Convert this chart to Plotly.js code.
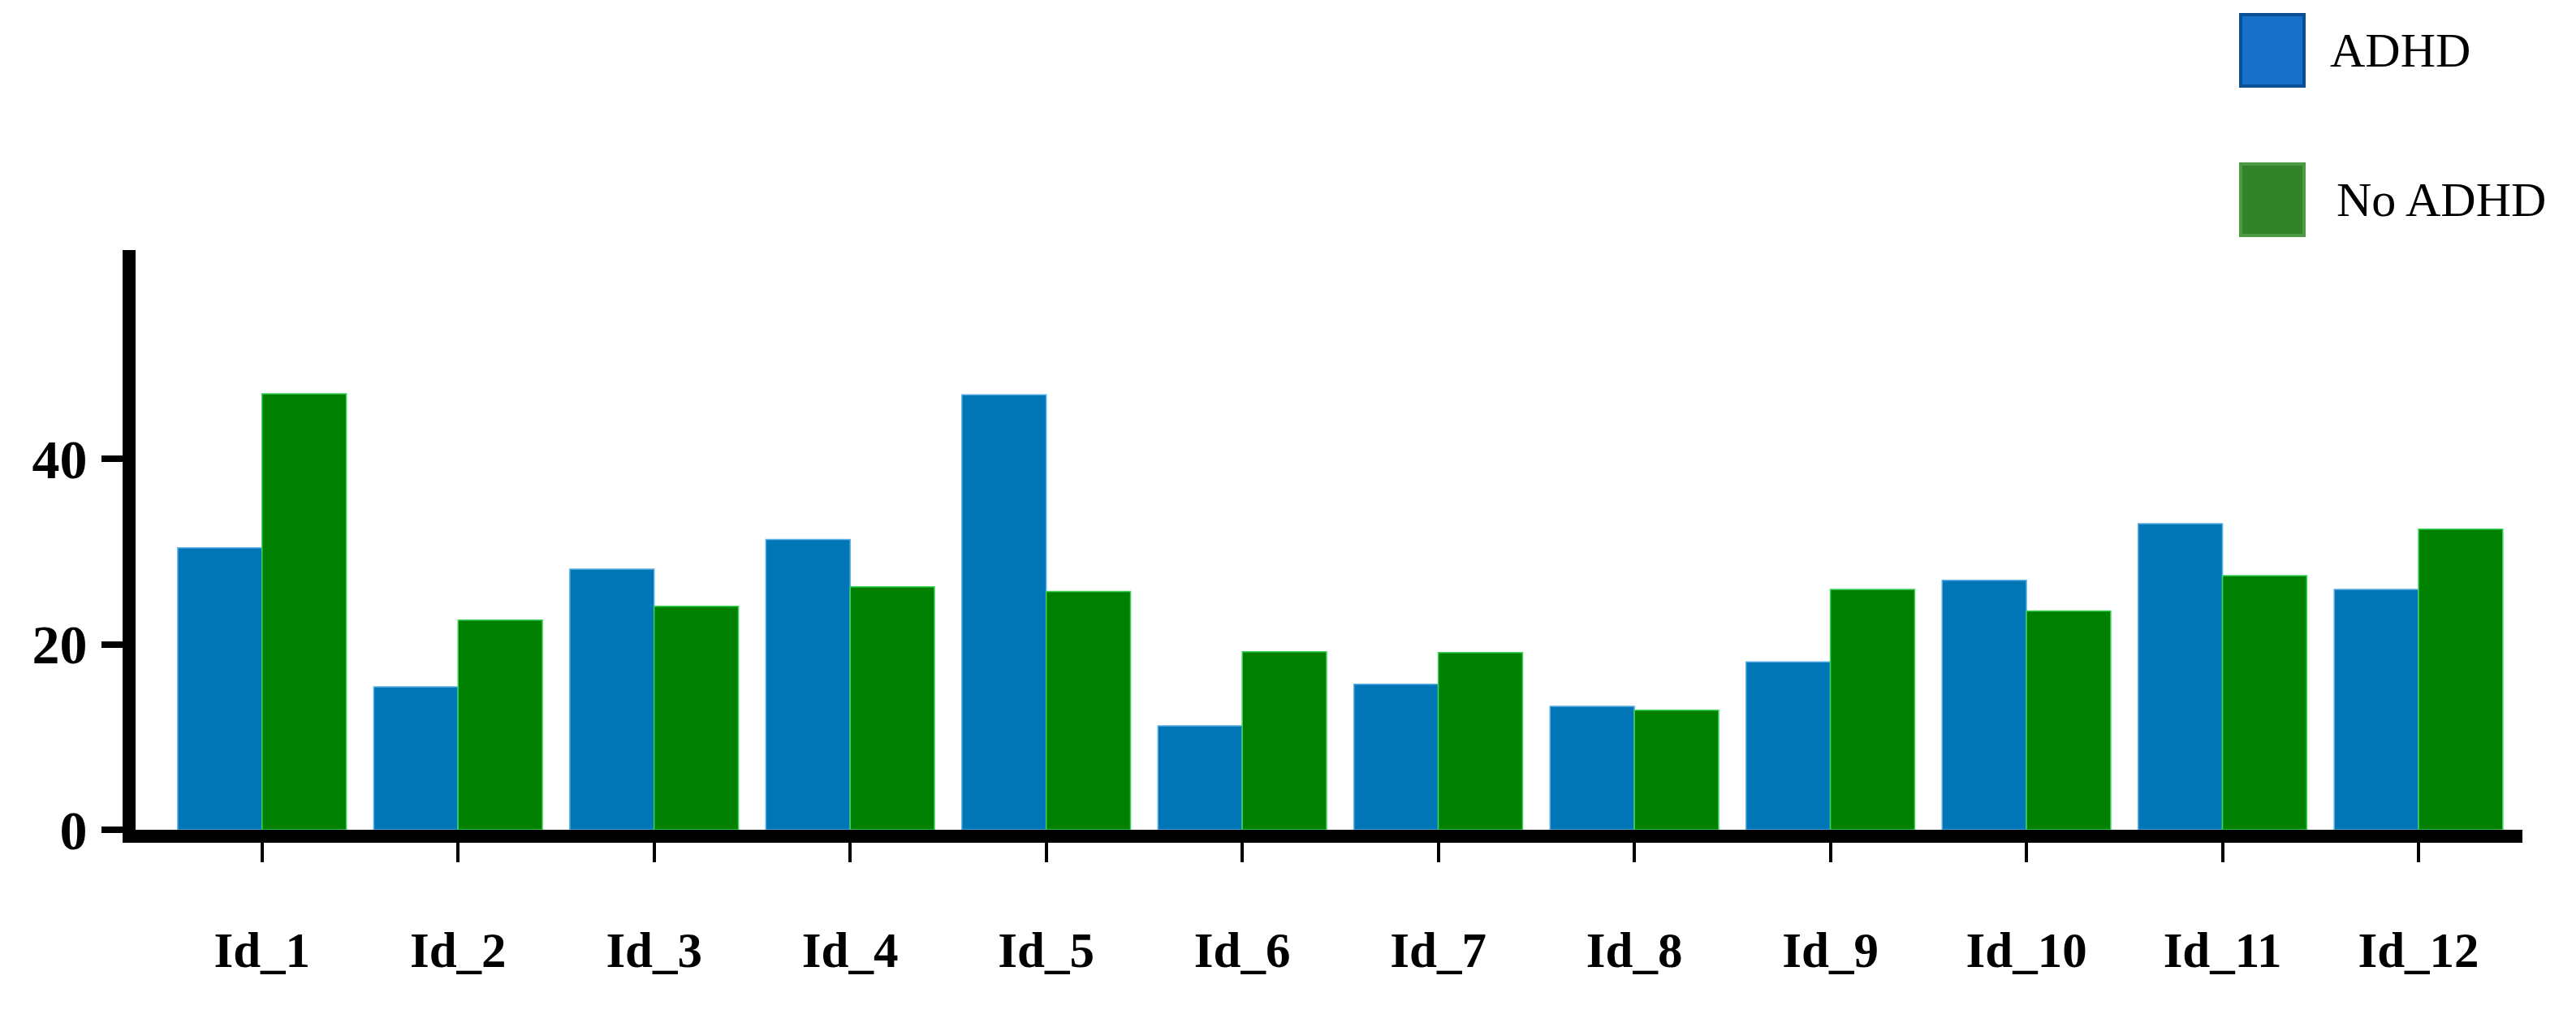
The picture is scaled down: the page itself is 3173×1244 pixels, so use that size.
<!DOCTYPE html>
<html>
<head>
<meta charset="utf-8">
<script src="https://cdn.plot.ly/plotly-3.0.1.min.js"></script>
<style>
  html, body { margin: 0; padding: 0; background: #ffffff; }
  #chart { width: 3173px; height: 1244px; }
</style>
</head>
<body>
<div id="chart"></div>
<script>
// Participants on the x axis
const ids = ['Id_1', 'Id_2', 'Id_3', 'Id_4', 'Id_5', 'Id_6',
             'Id_7', 'Id_8', 'Id_9', 'Id_10', 'Id_11', 'Id_12'];

// Values
const adhdValues   = [30.4, 15.4, 28.1, 31.3, 46.9, 11.2, 15.7, 13.3, 18.1, 26.9, 33.0, 25.9];
const noAdhdValues = [47.0, 22.6, 24.1, 26.2, 25.7, 19.2, 19.1, 12.9, 25.9, 23.6, 27.4, 32.4];

const yTicks = [0, 20, 40];

const W = 3173, H = 1244;
const margin = { l: 167, r: 66, t: 308, b: 222 };
const plotW = W - margin.l - margin.r;
const plotH = H - margin.t - margin.b;

// pixel -> paper helpers, used for the hand drawn legend
const px = x => (x - margin.l) / plotW;
const py = y => (H - margin.b - y) / plotH;

const serif = 'Liberation Serif, Times New Roman, serif';

function legendItem(label, fill, border, top, textX) {
  return {
    shape: {
      type: 'rect', xref: 'paper', yref: 'paper',
      x0: px(2760), x1: px(2838), y0: py(top + 88), y1: py(top),
      fillcolor: fill, line: { color: border, width: 4 },
    },
    note: {
      text: label, xref: 'paper', yref: 'paper',
      x: px(textX), y: py(top + 44), xanchor: 'left', yanchor: 'middle',
      showarrow: false, font: { family: serif, size: 60, color: '#000' },
    },
  };
}

const legend = [
  legendItem('ADHD', '#1872c9', '#0b4f94', 18, 2868),
  legendItem('No ADHD', '#33832b', '#4c9a44', 202, 2876),
];

Plotly.newPlot('chart', [
  {
    x: ids,
    y: adhdValues,
    name: 'ADHD',
    type: 'bar',
    marker: { color: '#0076b6', line: { color: '#5ab0e6', width: 1.5 } },
  },
  {
    x: ids,
    y: noAdhdValues,
    name: 'No ADHD',
    type: 'bar',
    marker: { color: '#008000', line: { color: '#3bd45a', width: 1.5 } },
  },
], {
  width: W,
  height: H,
  barmode: 'group',
  bargap: 0.14,
  bargroupgap: 0,
  showlegend: false,
  xaxis: {
    type: 'category',
    range: [-0.645, 11.53],
    showline: true,
    linecolor: '#000',
    linewidth: 16,
    ticks: 'outside',
    ticklen: 24,
    tickwidth: 4,
    tickcolor: '#000',
    ticklabelstandoff: 56,
    tickfont: { family: serif, size: 61, color: '#000', weight: 'bold' },
    showgrid: false,
    zeroline: false,
  },
  yaxis: {
    range: [0, 62.5],
    tickvals: yTicks,
    ticktext: yTicks.map(String),
    showline: true,
    linecolor: '#000',
    linewidth: 16,
    ticks: 'outside',
    ticklen: 26,
    tickwidth: 8,
    tickcolor: '#000',
    ticklabelstandoff: 4,
    tickfont: { family: serif, size: 68, color: '#000', weight: 'bold' },
    showgrid: false,
    zeroline: false,
  },
  shapes: legend.map(d => d.shape),
  annotations: legend.map(d => d.note),
  margin: margin,
  paper_bgcolor: '#ffffff',
  plot_bgcolor: '#ffffff',
}, { displayModeBar: false, staticPlot: true });
</script>
</body>
</html>
